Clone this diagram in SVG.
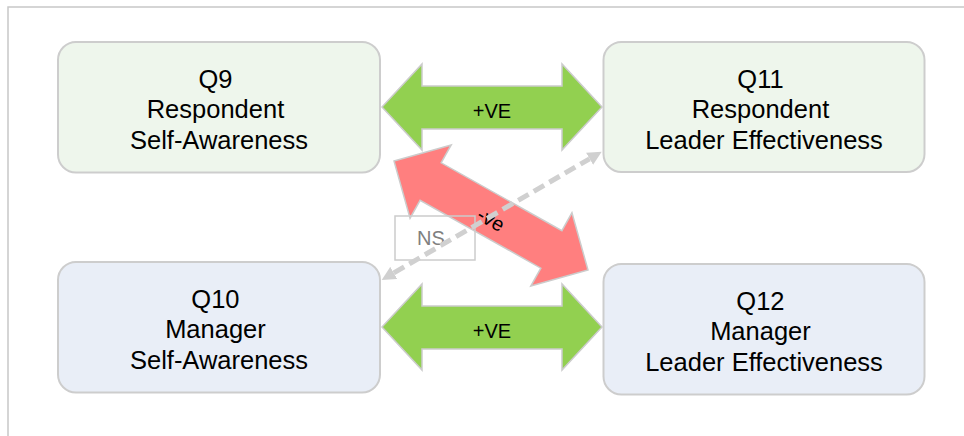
<svg xmlns="http://www.w3.org/2000/svg" width="964" height="436" viewBox="0 0 964 436">
  <style>
    .frame { fill: none; stroke: #c8c8c8; stroke-width: 1.5; }
    .box { stroke: #cdcdcd; stroke-width: 2; }
    .top { fill: #eef6ec; }
    .bot { fill: #e9eef7; }
    .lbl { font-family: "Liberation Sans", Arial, sans-serif; font-size: 25.5px; fill: #000; text-anchor: middle; }
    .pos { fill: #92d050; stroke: #cccccc; stroke-width: 1.5; stroke-linejoin: miter; }
    .neg { fill: #ff7f7f; stroke: #cccccc; stroke-width: 1.5; stroke-linejoin: miter; }
    .rel { font-family: "Liberation Sans", Arial, sans-serif; font-size: 20px; fill: #000; text-anchor: middle; }
    .ns-box { fill: none; stroke: #cccccc; stroke-width: 1.5; }
    .ns-text { font-family: "Liberation Sans", Arial, sans-serif; font-size: 20px; fill: #808080; text-anchor: middle; }
    .dash { fill: none; stroke: #d0d0d0; stroke-width: 5; stroke-dasharray: 12 6; }
  </style>
  <defs>
    <marker id="tri" viewBox="0 0 14 14" refX="0" refY="7" markerWidth="14" markerHeight="14" markerUnits="userSpaceOnUse" orient="auto-start-reverse">
      <path d="M0,0 L14,7 L0,14 z" fill="#d0d0d0"/>
    </marker>
  </defs>

  <rect width="964" height="436" fill="#ffffff"/>
  <path class="frame" d="M8,436 L8,7 L964,7"/>

  <g id="q9">
    <rect class="box top" x="58" y="42" width="322" height="130.5" rx="18" ry="18"/>
    <text class="lbl">
      <tspan x="219" y="88">Q9</tspan>
      <tspan x="219" y="118">Respondent</tspan>
      <tspan x="219" y="148.5">Self-Awareness</tspan>
    </text>
  </g>

  <g id="q11">
    <rect class="box top" x="603.5" y="42" width="321" height="130" rx="18" ry="18"/>
    <text class="lbl">
      <tspan x="764" y="88">Q11</tspan>
      <tspan x="764" y="118">Respondent</tspan>
      <tspan x="764" y="148.5">Leader Effectiveness</tspan>
    </text>
  </g>

  <g id="q10">
    <rect class="box bot" x="58" y="262" width="322" height="130.5" rx="18" ry="18"/>
    <text class="lbl">
      <tspan x="219" y="308">Q10</tspan>
      <tspan x="219" y="338">Manager</tspan>
      <tspan x="219" y="368.5">Self-Awareness</tspan>
    </text>
  </g>

  <g id="q12">
    <rect class="box bot" x="603.5" y="264" width="321" height="130.5" rx="18" ry="18"/>
    <text class="lbl">
      <tspan x="764" y="310">Q12</tspan>
      <tspan x="764" y="340">Manager</tspan>
      <tspan x="764" y="370.5">Leader Effectiveness</tspan>
    </text>
  </g>

  <g id="connectors">
    <!-- Q9 <-> Q11 positive -->
    <polygon class="pos" points="382,107 422,64 422,86 562,86 562,64 602,107 562,150 562,129 422,129 422,150"/>
    <text class="rel" x="492" y="117.5">+VE</text>

    <!-- Q10 <-> Q12 positive -->
    <polygon class="pos" points="382,327 422,284 422,306 562,306 562,284 602,327 562,370 562,349 422,349 422,370"/>
    <text class="rel" x="492" y="337.5">+VE</text>

    <!-- Q9 <-> Q12 negative -->
    <g transform="translate(491 215.5) rotate(29.33)">
      <polygon class="neg" points="-111.25,0 -69.25,-42 -69.25,-21.5 69.25,-21.5 69.25,-42 111.25,0 69.25,42 69.25,21.5 -69.25,21.5 -69.25,42"/>
      <text class="rel" x="2" y="10.5">-ve</text>
    </g>

    <!-- Q10 <-> Q11 not significant -->
    <rect class="ns-box" x="395" y="216" width="80" height="44"/>
    <text class="ns-text" x="431" y="245">NS</text>
    <line class="dash" x1="393.8" y1="272.9" x2="589.6" y2="158.8" marker-start="url(#tri)" marker-end="url(#tri)"/>
  </g>
</svg>
